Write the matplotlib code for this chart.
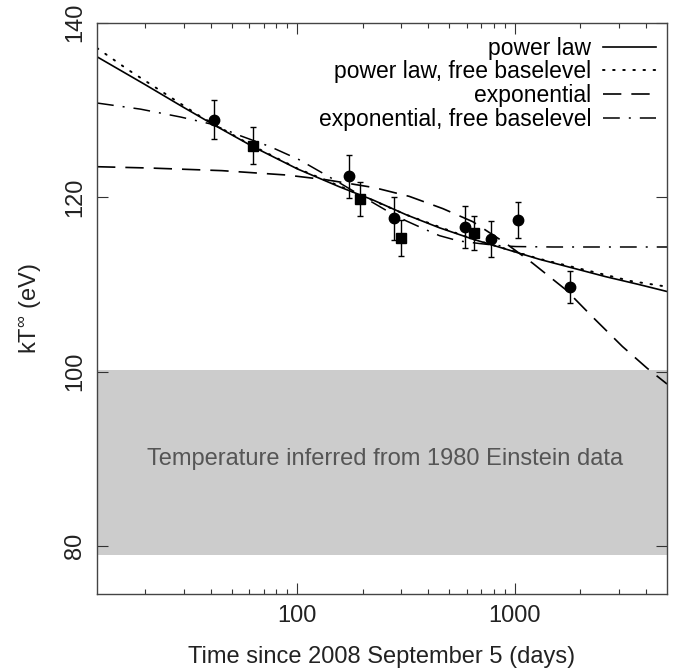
import matplotlib
matplotlib.use("Agg")
import matplotlib.pyplot as plt
from matplotlib.ticker import NullFormatter, FixedLocator

plt.rcParams["font.family"] = ["Liberation Sans", "DejaVu Sans"]
plt.rcParams["mathtext.fontset"] = "custom"
plt.rcParams["mathtext.rm"] = "Liberation Sans"
plt.rcParams["mathtext.it"] = "Liberation Sans"

# observations (days since 2008 Sep 5, kT in eV, 1-sigma error)
circ_t = [41.3, 172, 277, 590, 776, 1035, 1787]
circ_kt = [128.9, 122.4, 117.6, 116.6, 115.2, 117.4, 109.7]
circ_err = [2.2, 2.5, 2.45, 2.45, 2.1, 2.1, 1.85]

sq_t = [62.5, 195, 300, 649]
sq_kt = [125.9, 119.8, 115.3, 115.9]
sq_err = [2.1, 1.95, 2.05, 1.9]

# fitted curves
pl_t = [12, 20, 30, 41.3, 62.5, 100, 156, 222, 316, 450, 640, 910, 1291, 1837, 2612, 3715, 5000]
pl_kt = [136.1, 132.9, 130.3, 128.3, 125.8, 123.25, 121.2, 119.7, 118.0, 116.5, 115.2, 114.05,
         112.9, 111.9, 110.9, 110.0, 109.2]

plf_t = [12, 16.7, 23.2, 35.6, 60, 100, 156, 316, 640, 1291, 2080, 3404, 5000]
plf_kt = [137.1, 134.6, 132.3, 129.3, 126.1, 123.3, 121.3, 118.0, 115.2, 112.95, 111.7, 110.4, 109.75]

exp_t = [12, 21, 45, 89, 136, 226, 327, 466, 640, 910, 1205, 1714, 2270, 3118, 4055, 5000]
exp_kt = [123.5, 123.35, 123.05, 122.55, 122.0, 121.1, 120.1, 118.7, 117.2, 114.7, 112.45,
          109.4, 106.3, 102.9, 100.4, 98.6]

expf_t = [12, 19, 29, 40, 54, 75, 102, 130, 160, 215, 260, 316, 380, 450, 550, 685, 850, 1010, 1500, 5000]
expf_kt = [130.8, 130.1, 129.2, 128.4, 127.1, 125.8, 124.3, 122.8, 121.5, 119.6, 118.4, 117.3,
           116.4, 115.6, 115.0, 114.7, 114.45, 114.35, 114.3, 114.3]

einstein_lo, einstein_hi = 79.0, 100.2

fig = plt.figure(figsize=(6.78, 6.69), dpi=100)
ax = fig.add_axes([0.1431, 0.1117, 0.8407, 0.8543])

ax.axhspan(einstein_lo, einstein_hi, color="#cccccc", lw=0, zorder=0)
ax.text(0.505, 90.0, "Temperature inferred from 1980 Einstein data", transform=ax.get_yaxis_transform(),
        ha="center", va="center", fontsize=17, color="#555555")

l1, = ax.plot(pl_t, pl_kt, color="k", lw=1.2, ls="-", label="power law")
l2, = ax.plot(plf_t, plf_kt, color="k", lw=1.4, ls=(0, (0.8, 4.4)), dash_capstyle="round",
              label="power law, free baselevel")
l3, = ax.plot(exp_t, exp_kt, color="k", lw=1.2, ls=(0, (11, 6)), label="exponential")
l4, = ax.plot(expf_t, expf_kt, color="k", lw=1.1, ls=(0, (11, 5.9, 1.3, 5.9)),
              label="exponential, free baselevel")

ax.errorbar(circ_t, circ_kt, yerr=circ_err, fmt="o", color="k", ms=7.5, capsize=2.5,
            elinewidth=1, capthick=1, zorder=5)
ax.errorbar(sq_t, sq_kt, yerr=sq_err, fmt="s", color="k", ms=7, capsize=2.5,
            elinewidth=1, capthick=1, zorder=5)

ax.set_xscale("log")
ax.set_xlim(12, 5000)
ax.set_ylim(74.5, 140)

ax.xaxis.set_major_locator(FixedLocator([100, 1000]))
ax.set_xticklabels(["100", "1000"])
ax.xaxis.set_minor_formatter(NullFormatter())
ax.set_yticks([80, 100, 120, 140])
ax.minorticks_on()
ax.yaxis.set_minor_locator(FixedLocator([]))
ax.xaxis.set_minor_locator(FixedLocator([20, 30, 40, 50, 60, 70, 80, 90, 200, 300, 400, 500,
                                         600, 700, 800, 900, 2000, 3000, 4000]))

ax.tick_params(which="both", direction="in", top=True, right=True, color="#333333", width=0.8)
ax.tick_params(which="major", length=8)
ax.tick_params(which="minor", length=3.8)
ax.tick_params(axis="x", labelsize=17, pad=7.5, labelcolor="#222222")
ax.tick_params(axis="y", labelsize=17, pad=8, labelcolor="#222222")
plt.setp(ax.get_yticklabels(), rotation=90, va="center")
for sp in ax.spines.values():
    sp.set_color("#444444")
    sp.set_linewidth(1.0)

ax.set_xlabel("Time since 2008 September 5 (days)", fontsize=17, labelpad=14, color="#222222")
ax.set_ylabel(r"kT$^{\infty}$ (eV)", fontsize=17, labelpad=14, color="#222222")

ax.legend(handles=[l1, l2, l3, l4], loc="upper right", bbox_to_anchor=(0.9807, 0.9755),
          markerfirst=False, frameon=False, fontsize=16.5, handlelength=2.3,
          handletextpad=0.52, labelspacing=0.03, borderpad=0, borderaxespad=0)

fig.savefig("out.png", dpi=100)
